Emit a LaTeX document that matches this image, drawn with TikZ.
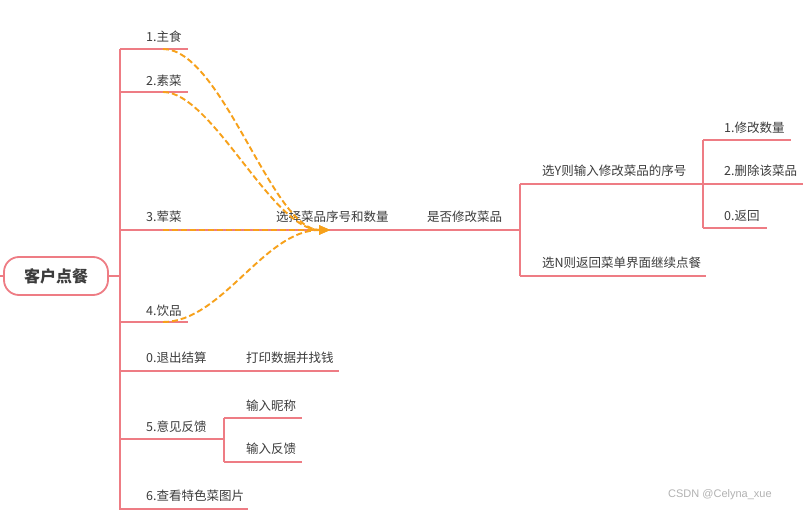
\documentclass[tikz,border=0pt]{standalone}
\usepackage{fontspec}
\newfontfamily\cjk{Noto Sans CJK SC}
\usetikzlibrary{arrows.meta}
\definecolor{brred}{HTML}{EE7C84}
\definecolor{dorange}{HTML}{F7A11A}
\definecolor{txtgray}{HTML}{3C3C3C}
\begin{document}
\begin{tikzpicture}[x=1pt,y=-1pt,
  br/.style={draw=brred,line width=2.1pt},
  rel/.style={draw=dorange,line width=1.9pt,dash pattern=on 6pt off 3pt,-{Triangle[length=11pt,width=9pt]}},
  lbl/.style={anchor=west,inner sep=0pt,text=txtgray,font=\cjk\fontsize{12.5}{14}\selectfont},
  rootbox/.style={draw=brred,line width=1.8pt,rounded corners=15pt,fill=white,minimum width=104pt,minimum height=38pt,inner sep=0pt,text=txtgray,font=\cjk\bfseries\fontsize{16}{18}\selectfont}]
\useasboundingbox (0,0) rectangle (809,511);
\fill[white] (0,0) rectangle (809,511);

% root
\node[rootbox] (root) at (56,276) {客户点餐};
\coordinate (stubL) at (0,276);
\coordinate (trunkMid) at (120,276);
\coordinate (trunkTop) at (120,49);
\coordinate (trunkBot) at (120,510);

% trunk branches: coordinates
\coordinate (b1s) at (120,49);  \coordinate (b1e) at (188,49);
\coordinate (b2s) at (120,92);  \coordinate (b2e) at (188,92);
\coordinate (b3s) at (120,230); \coordinate (b3e) at (520,230);
\coordinate (b4s) at (120,322); \coordinate (b4e) at (188,322);
\coordinate (b0s) at (120,371); \coordinate (b0e) at (339,371);
\coordinate (b5s) at (120,439); \coordinate (b5e) at (224,439);
\coordinate (b6s) at (120,509); \coordinate (b6e) at (248,509);

% feedback sub
\coordinate (f1) at (224,418); \coordinate (f1e) at (302,418);
\coordinate (f2) at (224,462); \coordinate (f2e) at (302,462);

% modify branch
\coordinate (mY) at (520,184); \coordinate (mYe) at (803,184);
\coordinate (mN) at (520,276); \coordinate (mNe) at (706,276);
\coordinate (s1) at (703,140); \coordinate (s1e) at (791,140);
\coordinate (s0) at (703,228); \coordinate (s0e) at (767,228);

% lines
\draw[br] (stubL) -- (root.west);
\draw[br] (root.east) -- (trunkMid);
\draw[br] (trunkTop) -- (trunkBot);
\draw[br] (b1s) -- (b1e);
\draw[br] (b2s) -- (b2e);
\draw[br] (b3s) -- (b3e);
\draw[br] (b4s) -- (b4e);
\draw[br] (b0s) -- (b0e);
\draw[br] (b5s) -- (b5e);
\draw[br] (b6s) -- (b6e);
\draw[br] (f1) -- (f2);
\draw[br] (f1) -- (f1e);
\draw[br] (f2) -- (f2e);
\draw[br] (mY) -- (mN);
\draw[br] (mY) -- (mYe);
\draw[br] (mN) -- (mNe);
\draw[br] (s1) -- (s0);
\draw[br] (s1) -- (s1e);
\draw[br] (s0) -- (s0e);

% labels
\node[lbl] (t1) at (146,37) {1.主食};
\node[lbl] (t2) at (146,81) {2.素菜};
\node[lbl] (t3) at (146,217) {3.荤菜};
\node[lbl] (t4) at (146,311) {4.饮品};
\node[lbl] (t0) at (146,358) {0.退出结算};
\node[lbl] (t5) at (146,427) {5.意见反馈};
\node[lbl] (t6) at (146,496) {6.查看特色菜图片};
\node[lbl] (tprint) at (246,358) {打印数据并找钱};
\node[lbl] (tnick) at (246,406) {输入昵称};
\node[lbl] (tfb) at (246,449) {输入反馈};
\node[lbl] (tsel) at (276,217) {选择菜品序号和数量};
\node[lbl] (tmod) at (427,217) {是否修改菜品};
\node[lbl] (tY) at (542,171) {选Y则输入修改菜品的序号};
\node[lbl] (tN) at (542,263) {选N则返回菜单界面继续点餐};
\node[lbl] (tm1) at (724,128) {1.修改数量};
\node[lbl] (tm2) at (724,171) {2.删除该菜品};
\node[lbl] (tm0) at (724,216) {0.返回};

% relationships
\coordinate (r1) at (163,49);
\coordinate (r2) at (163,92);
\coordinate (r3) at (163,230);
\coordinate (r4) at (163,322);
\coordinate (selIn) at (330,230);
\draw[rel] (r1) .. controls (222,49) and (272,230) .. (selIn);
\draw[rel] (r2) .. controls (212,92) and (272,230) .. (selIn);
\draw[rel] (r3) -- (selIn);
\draw[rel] (r4) .. controls (222,322) and (264,230) .. (selIn);

% watermark
\node[anchor=west,inner sep=0pt,text=black!30,font=\fontspec{Liberation Sans}\fontsize{11}{13}\selectfont] (wm) at (668,495) {CSDN @Celyna\_xue};
\end{tikzpicture}
\end{document}
